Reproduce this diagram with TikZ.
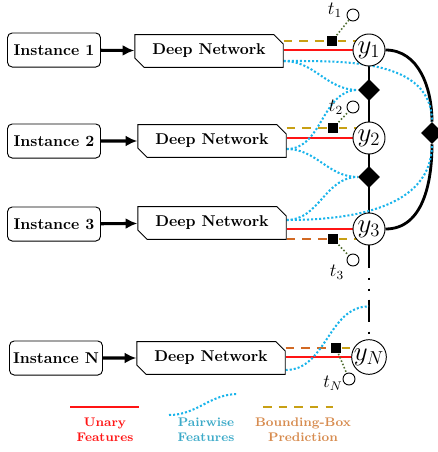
\documentclass[tikz,border=0pt]{standalone}
\usetikzlibrary{shapes.misc,shapes.geometric,arrows.meta,calc,backgrounds}
\definecolor{unaryred}{RGB}{255,20,20}
\definecolor{pwblue}{RGB}{25,180,235}
\definecolor{pwtext}{RGB}{60,170,200}
\definecolor{bbgold}{RGB}{200,160,20}
\definecolor{bborange}{RGB}{210,105,35}
\definecolor{bbtext}{RGB}{215,140,80}
\definecolor{tgreen}{RGB}{80,110,50}
\begin{document}
\begin{tikzpicture}[x=0.64pt,y=-0.64pt,
  inst/.style={draw, rounded corners=3pt, minimum width=59.5pt, minimum height=21.8pt, inner sep=0pt, font=\bfseries, line width=0.6pt},
  dnet/.style={draw, chamfered rectangle, chamfered rectangle corners={north east,south west}, chamfered rectangle sep=3pt, minimum width=95pt, minimum height=21pt, inner sep=0pt, font=\bfseries, line width=0.6pt},
  ycirc/.style={draw, circle, fill=white, minimum size=20.5pt, inner sep=0pt, line width=0.6pt, font=\LARGE},
  tcirc/.style={draw, circle, fill=white, minimum size=7.7pt, inner sep=0pt, line width=0.6pt},
  sq/.style={fill=black, rectangle, minimum size=7pt, inner sep=0pt},
  dia/.style={fill=black, diamond, minimum size=14pt, inner sep=0pt},
  tlab/.style={font=\large, inner sep=0pt},
  unary/.style={draw=unaryred, line width=1.2pt},
  pw/.style={draw=pwblue, line width=1.3pt, dash pattern=on 1.3pt off 1.3pt},
  bbg/.style={draw=bbgold, line width=1.3pt, dash pattern=on 5.5pt off 4.5pt},
  bbo/.style={draw=bborange, line width=1.3pt, dash pattern=on 5.5pt off 4.5pt},
  tline/.style={draw=tgreen, line width=1pt, dash pattern=on 1pt off 1.3pt},
  chain/.style={line width=1.8pt},
  chaindash/.style={line width=1.8pt, dash pattern=on 14.1pt off 6.4pt on 1.3pt off 5.8pt on 1.3pt off 5.8pt},
  feed/.style={-{Latex[length=7.5pt,width=7pt]}, line width=2pt},
  legtext/.style={font=\footnotesize\bfseries, align=center, inner sep=0pt}
]
\useasboundingbox (0,0) rectangle (438,452);
% instances
\node[inst] (i1) at (54,50) {Instance 1};
\node[inst] (i2) at (54,141) {Instance 2};
\node[inst] (i3) at (54,224) {Instance 3};
\node[inst] (iN) at (56,358) {Instance N};
% deep networks
\node[dnet] (dn1) at (209,51) {Deep Network};
\node[dnet] (dn2) at (212,141) {Deep Network};
\node[dnet] (dn3) at (212,223) {Deep Network};
\node[dnet] (dnN) at (211,358) {Deep Network};
\draw[feed] (i1) -- (dn1);
\draw[feed] (i2) -- (dn2);
\draw[feed] (i3) -- (dn3);
\draw[feed] (iN) -- (dnN);
% output variables
\node[ycirc] (y1) at (369,50) {$y_1$};
\node[ycirc] (y2) at (369,138) {$y_2$};
\node[ycirc] (y3) at (369,229) {$y_3$};
\node[ycirc] (yN) at (369,357) {$y_N$};
% factors
\node[dia] (d12) at (369,90) {};
\node[dia] (d23) at (369,177) {};
\node[dia] (d13) at (432,133) {};
% bbox squares and targets
\node[sq] (s1) at (332,41) {};
\node[sq] (s2) at (333,128) {};
\node[sq] (s3) at (333,239) {};
\node[sq] (sN) at (336,348) {};
\node[tcirc] (t1) at (353,15) {};
\node[tcirc] (t2) at (353,107) {};
\node[tcirc] (t3) at (353,260) {};
\node[tcirc] (tN) at (349,379) {};
\node[tlab] (lt1) at (335,10) {$t_1$};
\node[tlab] (lt2) at (336,107) {$t_2$};
\node[tlab] (lt3) at (337,272) {$t_3$};
\node[tlab] (ltN) at (333,383) {$t_N$};
\coordinate (pN) at ($(y3.south)!0.65!(yN.north)$);
\begin{scope}[on background layer]
  % chain
  \draw[chain] (y1) -- (y2);
  \draw[chain] (y2) -- (y3);
  \draw[chaindash] (y3.south) -- (yN.north);
  \draw[chain] (y1.east) to[out=0,in=90] (d13.north);
  \draw[chain] (d13.south) to[out=-90,in=0] (y3.east);
  % unary
  \draw[unary] (y1.west -| dn1.east) -- (y1.west);
  \draw[unary] (y2.west -| dn2.east) -- (y2.west);
  \draw[unary] (y3.west -| dn3.east) -- (y3.west);
  \draw[unary] (yN.west -| dnN.east) -- (yN.west);
  % bounding box
  \draw[bbg] (s1 -| dn1.east) -- (s1);
  \draw[bbg] (s1) -- (s1 -| y1.center);
  \draw[bbg] (s2 -| dn2.east) -- (s2);
  \draw[bbg] (s2) -- (s2 -| y2.center);
  \draw[bbo] (s3 -| dn3.east) -- (s3);
  \draw[bbg] (s3) -- (s3 -| y3.center);
  \draw[bbo] (sN -| dnN.east) -- (sN);
  \draw[bbg] (sN) -- (sN -| yN.center);
  % pairwise
  \draw[pw] ($(dn1.east)+(0,10)$) to[out=0,in=180] (d12.west);
  \draw[pw] ($(dn1.east)+(0,10)$) to[out=0,in=90] (d13.north);
  \draw[pw] ($(dn2.east)+(0,8)$) to[out=0,in=180] (d12.west);
  \draw[pw] ($(dn2.east)+(0,8)$) to[out=0,in=180] (d23.west);
  \draw[pw] ($(dn3.east)+(0,-3)$) to[out=0,in=180] (d23.west);
  \draw[pw] ($(dn3.east)+(0,-3)$) to[out=0,in=-90] (d13.south);
  \draw[pw] ($(dnN.east)+(0,12)$) to[out=0,in=180] (pN);
\end{scope}
% target links
\draw[tline] (s1) -- (t1);
\draw[tline] (s2) -- (t2);
\draw[tline] (s3) -- (t3);
\draw[tline] (sN) -- (tN);
% legend
\coordinate (lu1) at (70,407);
\coordinate (lu2) at (139,407);
\coordinate (lp1) at (169,415);
\coordinate (lp2) at (238,394);
\coordinate (lb1) at (263,407);
\coordinate (lb2) at (333,407);
\draw[unary] (lu1) -- (lu2);
\draw[pw] (lp1) to[out=0,in=180] (lp2);
\draw[bbg] (lb1) -- (lb2);
\node[legtext, text=unaryred] (tu) at (105,430) {Unary\\Features};
\node[legtext, text=pwtext] (tp) at (206,430) {Pairwise\\Features};
\node[legtext, text=bbtext] (tb) at (303,430) {Bounding-Box\\Prediction};
\end{tikzpicture}
\end{document}
